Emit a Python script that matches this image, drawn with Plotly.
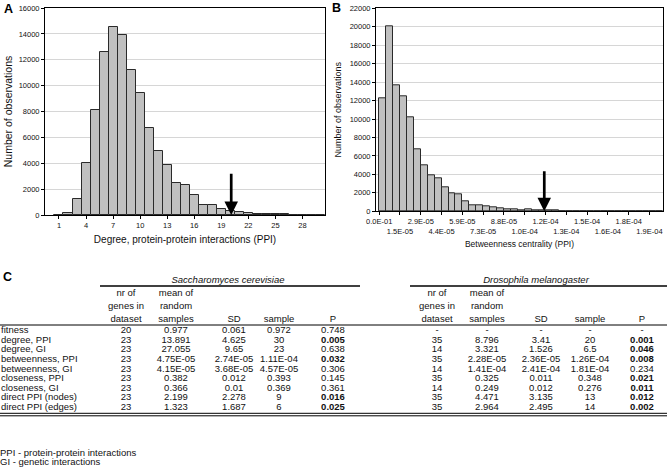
import plotly.graph_objects as go

# ---------------- DATA ----------------
# Panel A: degree (PPI) histogram of random samples
DEGREE = [1, 2, 3, 4, 5, 6, 7, 8, 9, 10, 11, 12, 13, 14, 15, 16, 17, 18, 19, 20,
          21, 22, 23, 24, 25, 26, 27, 28, 29, 30]
DEGREE_COUNTS = [20, 150, 1200, 4000, 8100, 12600, 14500, 13900, 11200, 9400,
                 6750, 4950, 3900, 2450, 2300, 1550, 780, 780, 480, 300,
                 250, 150, 90, 60, 50, 50, 10, 5, 5, 0]
DEGREE_TICKS = [1, 4, 7, 10, 13, 16, 19, 22, 25, 28]
DEGREE_ARROW = 20.1
DEGREE_ARROW_TOP = 3300

# Panel B: betweenness centrality (PPI) histogram (bins in order)
BETW_COUNTS = [12200, 20100, 13700, 12500, 10200, 6750, 5000, 3850, 3600, 2600,
               2000, 1800, 1050, 600, 650, 550, 420, 330, 250, 200,
               120, 220, 80, 80, 120, 60, 50, 40, 40, 30,
               50, 20, 40, 20, 20, 50, 10, 10, 10, 5, 0]
BETW_TICK_LABELS = ["0.0E-01", "1.5E-05", "2.9E-05", "4.4E-05", "5.9E-05", "7.3E-05",
                    "8.8E-05", "1.0E-04", "1.2E-04", "1.3E-04", "1.5E-04", "1.6E-04",
                    "1.8E-04", "1.9E-04"]
BINS_PER_TICK = 3
BETW_ARROW_BIN = 23.32
BETW_ARROW_TOP = 4500

# Panel C: table
ROW_LABELS = ["fitness", "degree, PPI", "degree, GI", "betweenness, PPI", "betweenness, GI",
              "closeness, PPI", "closeness, GI", "direct PPI (nodes)", "direct PPI (edges)"]
SC_N = ["20", "23", "23", "23", "23", "23", "23", "23", "23"]
SC_MEAN = ["0.977", "13.891", "27.055", "4.75E-05", "4.15E-05", "0.382", "0.366", "2.199", "1.323"]
SC_SD = ["0.061", "4.625", "9.65", "2.74E-05", "3.68E-05", "0.012", "0.01", "2.278", "1.687"]
SC_SAMPLE = ["0.972", "30", "23", "1.11E-04", "4.57E-05", "0.393", "0.369", "9", "6"]
SC_P = ["0.748", "0.005", "0.638", "0.032", "0.306", "0.145", "0.361", "0.016", "0.025"]
SC_SIG = [False, True, False, True, False, False, False, True, True]
DM_N = ["-", "35", "14", "35", "14", "35", "14", "35", "35"]
DM_MEAN = ["-", "8.796", "3.321", "2.28E-05", "1.41E-04", "0.325", "0.249", "4.471", "2.964"]
DM_SD = ["-", "3.41", "1.526", "2.36E-05", "2.41E-04", "0.011", "0.012", "3.135", "2.495"]
DM_SAMPLE = ["-", "20", "6.5", "1.26E-04", "1.81E-04", "0.348", "0.276", "13", "14"]
DM_P = ["-", "0.001", "0.046", "0.008", "0.234", "0.021", "0.011", "0.012", "0.002"]
DM_SIG = [False, True, True, True, False, True, True, True, True]
HEADER_LINES = [["nr of", "mean of", "", "", ""],
                ["genes in", "random", "", "", ""],
                ["dataset", "samples", "SD", "sample", "P"]]
SPECIES = ["Saccharomyces cerevisiae", "Drosophila melanogaster"]
FOOTNOTES = ["PPI - protein-protein interactions", "GI - genetic interactions"]

# ---------------- LAYOUT CONSTANTS ----------------
W, H = 667, 476
FONT = "Arial, Liberation Sans, sans-serif"
BAR_FILL = "#c0c0c0"
BAR_LINE = "#2a2a2a"
GRID = "#d6d6d6"
TXT = "#111111"


def px(x):
    return x / W


def py(y):
    return 1 - y / H


COL_X = [[126, 176, 234, 279, 333], [437, 487, 541, 590, 642]]
SPECIES_X = [228, 536]
HEADER_Y = [293.3, 306.5, 319.3]
ROW_Y0, ROW_STEP = 330.7, 9.63
FOOT_Y = [453.3, 462.8]
TABLE_FONT = 9.5

fig = go.Figure()

# Panel A bars
fig.add_trace(go.Bar(x=DEGREE, y=DEGREE_COUNTS, width=1.0,
                     marker=dict(color=BAR_FILL, line=dict(color=BAR_LINE, width=1)),
                     xaxis="x", yaxis="y", showlegend=False, hoverinfo="x+y"))

# Panel B bars (bin index axis)
bin_idx = list(range(len(BETW_COUNTS)))
fig.add_trace(go.Bar(x=bin_idx, y=BETW_COUNTS, width=1.0,
                     marker=dict(color=BAR_FILL, line=dict(color=BAR_LINE, width=1)),
                     xaxis="x2", yaxis="y2", showlegend=False, hoverinfo="y"))

# Panel C table text
tx, ty, tt = [], [], []
for li, line in enumerate(HEADER_LINES):
    for s in range(2):
        for ci, txt in enumerate(line):
            if txt:
                tx.append(COL_X[s][ci]); ty.append(HEADER_Y[li]); tt.append(txt)
sc_cols = [SC_N, SC_MEAN, SC_SD, SC_SAMPLE, SC_P]
dm_cols = [DM_N, DM_MEAN, DM_SD, DM_SAMPLE, DM_P]
for s, (cols, sig) in enumerate([(sc_cols, SC_SIG), (dm_cols, DM_SIG)]):
    for ci, col in enumerate(cols):
        for ri, v in enumerate(col):
            if ci == 4 and sig[ri]:
                v = "<b>" + v + "</b>"
            tx.append(COL_X[s][ci]); ty.append(ROW_Y0 + ri * ROW_STEP); tt.append(v)
for s, name in enumerate(SPECIES):
    tx.append(SPECIES_X[s]); ty.append(281); tt.append("<i>" + name + "</i>")

fig.add_trace(go.Scatter(x=tx, y=ty, text=tt, mode="text", textposition="middle center",
                         textfont=dict(family=FONT, size=TABLE_FONT, color=TXT),
                         xaxis="x3", yaxis="y3", showlegend=False, hoverinfo="skip",
                         cliponaxis=False))

lx = [1] * len(ROW_LABELS) + [0] * len(FOOTNOTES)
ly = [ROW_Y0 + i * ROW_STEP for i in range(len(ROW_LABELS))] + FOOT_Y
fig.add_trace(go.Scatter(x=lx, y=ly, text=ROW_LABELS + FOOTNOTES, mode="text",
                         textposition="middle right",
                         textfont=dict(family=FONT, size=TABLE_FONT, color=TXT),
                         xaxis="x3", yaxis="y3", showlegend=False, hoverinfo="skip",
                         cliponaxis=False))

axis_common = dict(showline=True, linecolor="black", linewidth=1, mirror=True,
                   ticks="outside", ticklen=3, tickcolor="black", automargin=False,
                   tickfont=dict(family=FONT, size=7.5, color=TXT), zeroline=False)

b_tickvals = [k * BINS_PER_TICK - 0.5 for k in range(len(BETW_TICK_LABELS))]
b_ticktext = [lab if k % 2 == 0 else "<br>" + lab for k, lab in enumerate(BETW_TICK_LABELS)]

fig.update_layout(
    width=W, height=H, margin=dict(l=0, r=0, t=0, b=0),
    paper_bgcolor="white", plot_bgcolor="white",
    bargap=0, font=dict(family=FONT, color=TXT),
    xaxis=dict(domain=[px(45), px(325)], range=[-0.55, 30.5], anchor="y",
               tickvals=DEGREE_TICKS, showgrid=False,
               title=dict(text="Degree, protein-protein interactions (PPI)",
                          font=dict(family=FONT, size=10, color=TXT), standoff=6),
               **axis_common),
    yaxis=dict(domain=[py(215), py(8)], range=[0, 16000], anchor="x", dtick=2000,
               tickformat="d",
               showgrid=True, gridcolor=GRID, gridwidth=1,
               title=dict(text="Number of observations",
                          font=dict(family=FONT, size=10.5, color=TXT), standoff=3),
               **axis_common),
    xaxis2=dict(domain=[px(376), px(663)], range=[-0.96, 40.45], anchor="y2",
                tickvals=b_tickvals, ticktext=b_ticktext, tickangle=0, showgrid=False,
                title=dict(text="Betweenness centrality (PPI)",
                           font=dict(family=FONT, size=8.5, color=TXT), standoff=6),
                **axis_common),
    yaxis2=dict(domain=[py(211.3), py(8.3)], range=[0, 22000], anchor="x2", dtick=2000,
                tickformat="d",
                showgrid=True, gridcolor=GRID, gridwidth=1,
                title=dict(text="Number of observations",
                           font=dict(family=FONT, size=9, color=TXT), standoff=6),
                **axis_common),
    xaxis3=dict(domain=[0, 1], range=[0, W], visible=False, anchor="y3"),
    yaxis3=dict(domain=[0, py(268)], range=[H, 268], visible=False, anchor="x3"),
)

# Arrows marking the observed sample value
fig.add_annotation(x=DEGREE_ARROW, y=0, ax=DEGREE_ARROW, ay=DEGREE_ARROW_TOP,
                   xref="x", yref="y", axref="x", ayref="y", text="", showarrow=True,
                   arrowhead=2, arrowsize=1.0, arrowwidth=2.7, arrowcolor="black", standoff=0)
fig.add_annotation(x=BETW_ARROW_BIN, y=0, ax=BETW_ARROW_BIN, ay=BETW_ARROW_TOP,
                   xref="x2", yref="y2", axref="x2", ayref="y2", text="", showarrow=True,
                   arrowhead=2, arrowsize=1.0, arrowwidth=2.7, arrowcolor="black", standoff=0)

# Panel letters
for letter, x, y in [("A", 8.5, 8.5), ("B", 336, 8.3), ("C", 7.5, 277)]:
    fig.add_annotation(x=px(x), y=py(y), xref="paper", yref="paper", text="<b>" + letter + "</b>",
                       showarrow=False, xanchor="center", yanchor="middle",
                       font=dict(family=FONT, size=12.5, color="black"))

# Table rules
rules = [
    (100, 360, 286, 1.6), (410, W, 286, 1.6),
    (0, W, 325, 1), (0, W, 413.3, 1), (0, W, 415.8, 1),
]
for x0, x1, y, wdt in rules:
    fig.add_shape(type="line", xref="x3", yref="y3", x0=x0, x1=x1, y0=y, y1=y,
                  line=dict(color="black", width=wdt))

fig.write_html("out.html", config={"displayModeBar": False},
               post_script="document.body.style.margin='0';document.body.style.padding='0';")
